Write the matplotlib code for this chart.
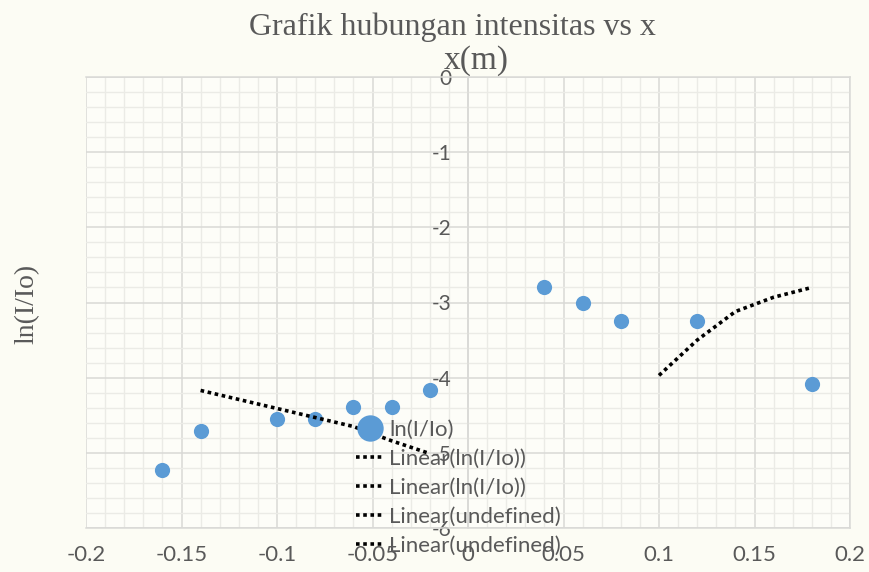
import matplotlib.pyplot as plt
from matplotlib.lines import Line2D
from matplotlib.ticker import MultipleLocator

# data
x_m = [-0.16, -0.14, -0.10, -0.08, -0.06, -0.04, -0.02, 0.04, 0.06, 0.08, 0.12, 0.18]
ln_i = [-5.23, -4.71, -4.55, -4.55, -4.39, -4.39, -4.16, -2.79, -3.01, -3.24, -3.24, -4.08]

trend1_x = [-0.14, -0.10, -0.08, -0.06, -0.04, -0.02]
trend1_y = [-4.17, -4.41, -4.53, -4.65, -4.84, -5.01]
trend2_x = [0.10, 0.12, 0.14, 0.16, 0.18]
trend2_y = [-3.97, -3.50, -3.12, -2.93, -2.80]

x_ticks = [-0.2, -0.15, -0.1, -0.05, 0, 0.05, 0.1, 0.15, 0.2]
x_tick_labels = ['-0.2', '-0.15', '-0.1', '-0.05', '0', '0.05', '0.1', '0.15', '0.2']
y_ticks = [0, -1, -2, -3, -4, -5, -6]
y_tick_labels = ['0', '-1', '-2', '-3', '-4', '-5', '-6']
legend_labels = ['ln(I/Io)', 'Linear(ln(I/Io))', 'Linear(ln(I/Io))',
                 'Linear(undefined)', 'Linear(undefined)']

bg = '#FCFCF4'
txt = '#595959'
blue = '#5B9BD5'
sans = ['Lato', 'DejaVu Sans']
serif = ['Liberation Serif', 'DejaVu Serif']

fig = plt.figure(figsize=(8.69, 5.72), dpi=100, facecolor=bg)
ax = fig.add_axes([86/869, 1-528/572, (850-86)/869, (528-77)/572])
ax.set_facecolor('#FDFDF8')

ax.set_xlim(-0.2, 0.2)
ax.set_ylim(-6, 0)
ax.set_xticks(x_ticks)
ax.set_xticklabels(x_tick_labels)
ax.set_yticks(y_ticks)
ax.set_yticklabels(y_tick_labels)
ax.xaxis.set_minor_locator(MultipleLocator(0.01))
ax.yaxis.set_minor_locator(MultipleLocator(0.2))
ax.grid(which='major', color='#D9D9D6', linewidth=1.1)
ax.grid(which='minor', color='#EBEBE6', linewidth=1.0)
ax.set_axisbelow(True)

for s in ['top', 'right', 'bottom']:
    ax.spines[s].set_color('#D9D9D6')
    ax.spines[s].set_linewidth(1.1)
ax.spines['left'].set_position(('data', 0))
ax.spines['left'].set_color('#D9D9D6')
ax.spines['left'].set_linewidth(1.1)

ax.tick_params(which='both', length=0)
ax.tick_params(axis='x', pad=12, labelsize=16, labelcolor=txt)
ax.tick_params(axis='y', pad=12, labelsize=15, labelcolor=txt)
for lab in ax.get_xticklabels() + ax.get_yticklabels():
    lab.set_family(sans)

ax.scatter(x_m, ln_i, s=120, color=blue, zorder=3, linewidths=0)
ax.plot(trend1_x, trend1_y, color='black', linewidth=2.6, linestyle=(0, (1, 1)), zorder=4)
ax.plot(trend2_x, trend2_y, color='black', linewidth=2.6, linestyle=(0, (1, 1)), zorder=4)

handles = [Line2D([], [], linestyle='none', marker='o', markersize=19,
                  markerfacecolor=blue, markeredgewidth=0)]
for _ in range(4):
    handles.append(Line2D([], [], color='black', linewidth=2.6, linestyle=(0, (1, 1))))
leg = fig.legend(handles, legend_labels, loc='upper left',
                 bbox_to_anchor=(356/869, 1-420/572), frameon=False,
                 handlelength=1.25, handletextpad=0.25, labelspacing=0.4,
                 borderpad=0, borderaxespad=0, prop={'family': sans, 'size': 16})
for t in leg.get_texts():
    t.set_color(txt)

fig.text(452/869, 1-27/572, 'Grafik hubungan intensitas vs x', ha='center', va='center',
         fontsize=23, color=txt, family=serif)
fig.text(476/869, 1-61/572, 'x(m)', ha='center', va='center',
         fontsize=24, color=txt, family=serif)
fig.text(27/869, 1-304/572, 'ln(I/Io)', ha='center', va='center', rotation=90,
         fontsize=20, color=txt, family=serif)

fig.savefig('out.png', dpi=100, facecolor=bg)
